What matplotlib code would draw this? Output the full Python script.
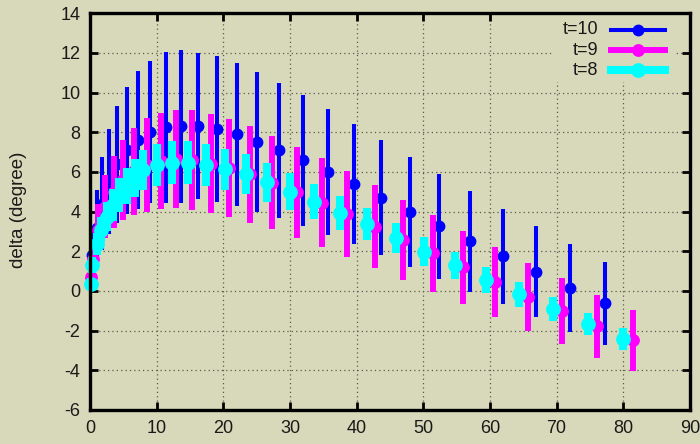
import matplotlib
matplotlib.use('Agg')
import matplotlib.pyplot as plt
from matplotlib.lines import Line2D
from matplotlib.patches import Rectangle

plt.rcParams['font.family'] = ['Liberation Sans', 'DejaVu Sans']
plt.rcParams['axes.unicode_minus'] = False

# t=10 (blue)
x_t10 = [0.3, 1.0, 1.85, 2.85, 4.0, 5.55, 7.2, 9.0, 11.4, 13.7, 16.2, 19.0, 22.0,
         25.1, 28.4, 31.9, 35.65, 39.6, 43.65, 47.95, 52.4, 57.0, 61.9, 66.9, 72.0, 77.3]
y_t10 = [1.8, 3.2, 4.4, 5.5, 6.4, 7.1, 7.62, 8.03, 8.25, 8.3, 8.33, 8.17, 7.9,
         7.53, 7.1, 6.6, 5.99, 5.38, 4.71, 4.0, 3.26, 2.51, 1.74, 0.97, 0.16, -0.63]
e_t10 = [1.3, 1.9, 2.35, 2.65, 2.95, 3.2, 3.47, 3.57, 3.8, 3.85, 3.67, 3.68, 3.6,
         3.53, 3.4, 3.3, 3.17, 3.02, 2.91, 2.78, 2.65, 2.54, 2.4, 2.29, 2.21, 2.1]

# t=9 (magenta)
x_t9 = [0.1, 0.4, 1.15, 2.25, 3.65, 5.0, 6.65, 8.5, 10.6, 12.9, 15.35, 18.1, 20.9, 24.0,
        27.35, 31.0, 34.75, 38.6, 42.7, 47.0, 51.4, 56.0, 60.8, 65.7, 70.8, 76.0, 81.5]
y_t9 = [0.7, 1.6, 3.1, 4.25, 5.0, 5.6, 6.03, 6.35, 6.55, 6.65, 6.6, 6.42, 6.19, 5.88,
        5.46, 4.97, 4.45, 3.88, 3.24, 2.58, 1.9, 1.19, 0.46, -0.29, -1.03, -1.78, -2.49]
e_t9 = [0.5, 0.9, 1.3, 1.6, 1.83, 2.0, 2.2, 2.35, 2.43, 2.47, 2.52, 2.5, 2.48, 2.44,
        2.35, 2.31, 2.25, 2.16, 2.09, 2.01, 1.93, 1.85, 1.78, 1.71, 1.66, 1.58, 1.53]

# t=8 (cyan)
x_t8 = [0.15, 0.35, 1.0, 1.7, 2.5, 3.4, 4.4, 5.5, 6.7, 8.0, 10.0, 12.25, 14.65, 17.35,
        20.25, 23.35, 26.6, 30.0, 33.65, 37.5, 41.6, 45.85, 50.15, 54.7, 59.45, 64.35,
        69.5, 74.75, 80.0]
y_t8 = [0.35, 1.3, 2.35, 3.1, 3.75, 4.35, 4.85, 5.3, 5.7, 6.1, 6.35, 6.47, 6.47, 6.35,
        6.13, 5.9, 5.48, 5.0, 4.5, 3.95, 3.36, 2.68, 1.99, 1.3, 0.57, -0.17,
        -0.91, -1.67, -2.41]
e_t8 = [0.3, 0.4, 0.55, 0.65, 0.72, 0.8, 0.86, 0.92, 0.97, 1.03, 1.05, 1.07, 1.07, 1.06,
        1.04, 1.01, 0.97, 0.93, 0.89, 0.86, 0.81, 0.77, 0.73, 0.69, 0.65, 0.62,
        0.59, 0.56, 0.56]

labels = ['t=10', 't=9', 't=8']
x_ticks = list(range(0, 91, 10))
y_ticks = list(range(-6, 15, 2))

bg = '#d8d8ba'
fig = plt.figure(figsize=(7, 4.44), dpi=100, facecolor=bg)
ax = fig.add_axes([0.1286, 0.0766, 0.857, 0.8934], facecolor=bg)

# colour, bar width, marker size (pt)
styles = [('#0000ff', 2.9, 7.5), ('#ff00ff', 4.3, 8.2), ('#00ffff', 5.8, 9.6)]
data = [(x_t10, y_t10, e_t10), (x_t9, y_t9, e_t9), (x_t8, y_t8, e_t8)]

for i, ((xs, ys, es), (c, lw, ms)) in enumerate(zip(data, styles)):
    cont = ax.errorbar(xs, ys, yerr=es, fmt='o', color=c, ms=ms, elinewidth=lw,
                       capsize=0, zorder=3 + i)
    for art in cont.get_children():
        art.set_clip_on(False)

ax.set_xlim(0, 90)
ax.set_ylim(-6, 14)
ax.set_xticks(x_ticks)
ax.set_yticks(y_ticks)
ax.set_axisbelow(True)
ax.grid(True, color='#5a5a50', ls=(0, (1, 2.5)), lw=0.9)
ax.tick_params(direction='in', length=6, width=2, labelsize=13, colors='black',
               labelcolor='#1a1a1a', top=True, right=True, pad=7)
for s in ax.spines.values():
    s.set_linewidth(2.4)
    s.set_zorder(10)

# legend box (gnuplot style, text left of sample)
ax.add_patch(Rectangle((0.77, 0.827), 0.207, 0.173, transform=ax.transAxes,
                       fc=bg, ec='none', zorder=1))
leg_y = [0.958, 0.9075, 0.857]
for lab, (c, lw, ms), yy in zip(labels, styles, leg_y):
    ax.text(0.8467, yy, lab, ha='right', va='center', transform=ax.transAxes,
            fontsize=13, color='#1a1a1a')
    ax.add_line(Line2D([0.868, 0.958], [yy, yy], transform=ax.transAxes,
                       color=c, lw=lw, zorder=5))
    ax.add_line(Line2D([0.913], [yy], transform=ax.transAxes, color=c,
                       marker='o', ms=ms, zorder=5))

fig.text(0.026, 0.527, 'delta (degree)', rotation=90, ha='center', va='center',
         fontsize=13.5, color='#1a1a1a')

fig.savefig('out.png', dpi=100, facecolor=bg)
